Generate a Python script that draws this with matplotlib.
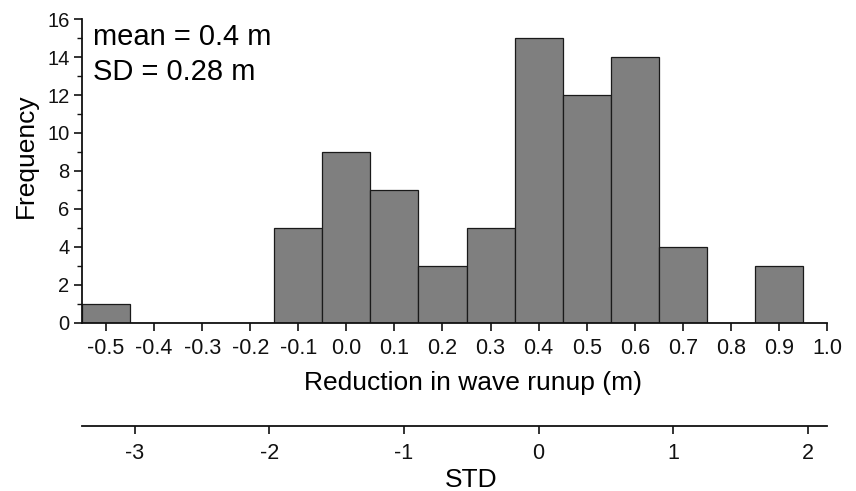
import matplotlib
matplotlib.use("Agg")
import matplotlib.pyplot as plt
import numpy as np
from matplotlib.ticker import MultipleLocator

plt.rcParams['font.family'] = ['Liberation Sans', 'DejaVu Sans']

bin_centers = [-0.5, -0.4, -0.3, -0.2, -0.1, 0.0, 0.1, 0.2, 0.3, 0.4, 0.5, 0.6, 0.7, 0.8, 0.9]
frequency = [1, 0, 0, 0, 5, 9, 7, 3, 5, 15, 12, 14, 4, 0, 3]
x_ticks = [-0.5, -0.4, -0.3, -0.2, -0.1, 0.0, 0.1, 0.2, 0.3, 0.4, 0.5, 0.6, 0.7, 0.8, 0.9, 1.0]
std_ticks = [-3, -2, -1, 0, 1, 2]
mean_val = 0.4
sd_val = 0.28

W, H = 856, 491
fig = plt.figure(figsize=(W / 100, H / 100), dpi=100)
left, right, top, bottom = 82, 827, 19, 323
ax = fig.add_axes([left / W, 1 - bottom / H, (right - left) / W, (bottom - top) / H])

ax.bar(bin_centers, frequency, width=0.1, color='#7f7f7f', edgecolor='#1a1a1a', linewidth=0.9, zorder=2)

ax.set_xlim(-0.55, 1.0)
ax.set_ylim(0, 16)
ax.set_xticks(x_ticks)
ax.set_xticklabels([f"{t:.1f}" for t in x_ticks])
ax.yaxis.set_major_locator(MultipleLocator(2))
ax.yaxis.set_minor_locator(MultipleLocator(1))
for s in ['top', 'right']:
    ax.spines[s].set_visible(False)
for s in ['left', 'bottom']:
    ax.spines[s].set_linewidth(1.3)
    ax.spines[s].set_color('#111111')
ax.tick_params(axis='both', which='major', direction='out', length=6, width=1.2, colors='#111111')
ax.tick_params(axis='x', which='major', labelsize=15.5, pad=5)
ax.tick_params(axis='y', which='major', labelsize=14.5, pad=3)
ax.tick_params(axis='y', which='minor', direction='out', length=3.5, width=1.0, colors='#111111')

fig.text(26 / W, 1 - 155.5 / H, 'Frequency', rotation=90, ha='center', va='center', fontsize=19)
fig.text(473 / W, 1 - 390 / H, 'Reduction in wave runup (m)', ha='center', va='baseline', fontsize=19)
fig.text(471 / W, 1 - 487 / H, 'STD', ha='center', va='baseline', fontsize=19)

ax.text(93 / W, 1 - 37 / H, 'mean = 0.4 m', transform=fig.transFigure, fontsize=21,
        va='center', ha='left')
ax.text(93 / W, 1 - 72 / H, 'SD = 0.28 m', transform=fig.transFigure, fontsize=21,
        va='center', ha='left')

def to_std(x):
    return (np.asarray(x) - mean_val) / sd_val

def from_std(s):
    return np.asarray(s) * sd_val + mean_val

loc = -(426 - bottom) / (bottom - top)
sec = ax.secondary_xaxis(loc, functions=(to_std, from_std))
sec.set_xticks(std_ticks)
sec.set_xticklabels([str(t) for t in std_ticks])
sec.spines['bottom'].set_linewidth(1.3)
sec.spines['bottom'].set_color('#111111')
sec.tick_params(axis='x', which='major', direction='out', length=6, width=1.2, labelsize=15.5, colors='#111111', pad=6)

fig.savefig('out.png', dpi=100)
